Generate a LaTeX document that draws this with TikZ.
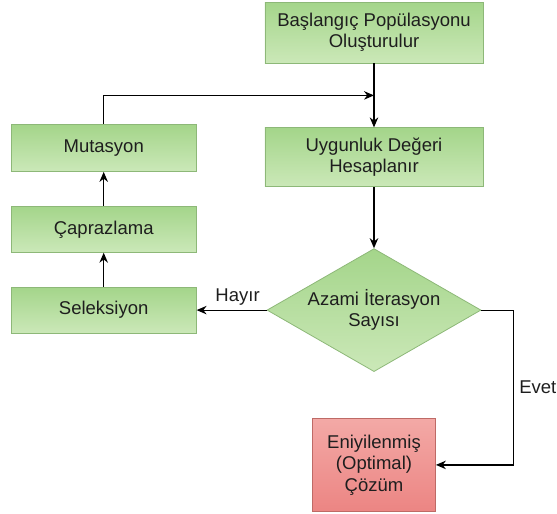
\documentclass[tikz,border=0pt]{standalone}
\usepackage{fontspec}
\setmainfont{Liberation Sans}
\usetikzlibrary{arrows.meta, positioning, shapes.geometric, calc}
\definecolor{greentop}{HTML}{A4D58A}
\definecolor{greenbottom}{HTML}{CBE8B8}
\definecolor{greenline}{HTML}{8DB878}
\definecolor{redtop}{HTML}{F3A9A6}
\definecolor{redbottom}{HTML}{EC8583}
\definecolor{redline}{HTML}{BE6A66}
\definecolor{textgray}{HTML}{1E1E1E}
\tikzset{
        >={Stealth[length=10pt, width=8.5pt]}, % filled arrow heads
        every node/.style={font=\fontsize{18.5pt}{21.5pt}\selectfont, text=textgray}, % sets the text of every node
        process/.style={rectangle, draw=greenline, line width=0.8pt, top color=greentop, bottom color=greenbottom, align=center, inner sep=0pt}, % green boxes
        wide/.style={process, minimum width=218pt}, % right column boxes
        small/.style={process, minimum width=185pt, minimum height=46pt}, % left column boxes
        decision/.style={diamond, aspect=1.74, draw=greenline, line width=0.8pt, top color=greentop, bottom color=greenbottom, align=center, inner sep=0pt, minimum width=214pt, minimum height=123pt}, % the test
        result/.style={rectangle, draw=redline, line width=0.8pt, top color=redtop, bottom color=redbottom, align=center, inner sep=0pt, minimum width=123pt, minimum height=93pt}, % the end box
    }
\begin{document}
\begin{tikzpicture}[node distance=34pt, line width=1.2pt]
    \useasboundingbox (-374pt,32.5pt) rectangle (183pt,-481.5pt);
    \node[wide, minimum height=61pt] (1) {Başlangıç Popülasyonu\\Oluşturulur};
    \node[wide, minimum height=59pt, below=64pt of 1] (2) {Uygunluk Değeri\\Hesaplanır};
    \node[decision, below=61pt of 2] (3) {Azami İterasyon\\Sayısı};
    \node[small, left=70pt of 3] (4) {Seleksiyon};
    \node[small, above=of 4] (5) {Çaprazlama};
    \node[small, minimum height=47pt, above=of 5] (6) {Mutasyon};
    \node[result, below=46pt of 3] (7) {Eniyilenmiş\\(Optimal)\\Çözüm};
    \coordinate (m) at ($(1.south)!0.5!(2.north)$);
    \coordinate[right=32pt of 3.east] (t);
    \draw[->]
      (1) edge (2)
      (2) edge (3)
      (3) edge node[above, xshift=6pt, yshift=1pt]{Hayır} (4)
      (4) edge (5)
      (5) edge (6);
    \draw[->] (6) |- (m);
    \draw[->] (3.east) -- (t) |- node[pos=0.25, right, xshift=2pt]{Evet} (7);
  \end{tikzpicture}
\end{document}
